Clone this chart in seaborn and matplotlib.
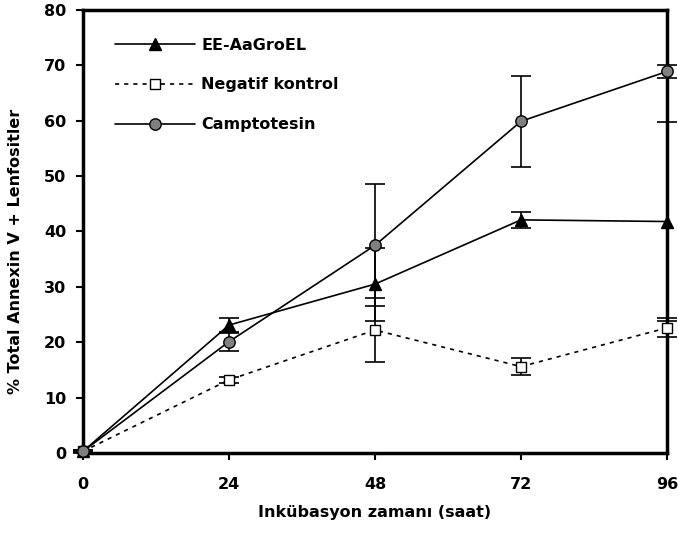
import matplotlib
matplotlib.use("Agg")
import matplotlib.pyplot as plt
import seaborn as sns
import pandas as pd
import numpy as np

hours = [0, 24, 48, 72, 96]
ee_vals = [0.3, 23.1, 30.5, 42.1, 41.8]
ee_err = [0.3, 1.2, 6.6, 1.5, 18.0]
neg_vals = [0.3, 13.2, 22.2, 15.6, 22.6]
neg_err = [0.2, 0.5, 5.7, 1.5, 1.7]
cam_vals = [0.3, 20.1, 37.5, 59.9, 68.9]
cam_err = [0.2, 1.6, 11.0, 8.2, 1.2]
series_names = ["EE-AaGroEL", "Negatif kontrol", "Camptotesin"]
xticks = [0, 24, 48, 72, 96]
yticks = [0, 10, 20, 30, 40, 50, 60, 70, 80]

sns.set_theme(style="white")
plt.rcParams['font.family'] = ['DejaVu Sans']
plt.rcParams['font.weight'] = 'bold'
plt.rcParams['text.color'] = 'black'
plt.rcParams['axes.labelcolor'] = 'black'
plt.rcParams['xtick.color'] = 'black'
plt.rcParams['ytick.color'] = 'black'

fig = plt.figure(figsize=(6.78, 5.35), dpi=100)
ax = fig.add_axes([0.1224, 0.1533, 0.8614, 0.828])

df = pd.DataFrame({
    "x": hours * 3,
    "y": ee_vals + neg_vals + cam_vals,
    "err": ee_err + neg_err + cam_err,
    "s": [series_names[0]] * 5 + [series_names[1]] * 5 + [series_names[2]] * 5,
})

styles = {
    series_names[0]: dict(marker="^", mfc="black", ms=9, ls="-"),
    series_names[1]: dict(marker="s", mfc="white", ms=7.5, ls=(0, (2.5, 3))),
    series_names[2]: dict(marker="o", mfc="#808080", ms=8.2, ls="-"),
}

for name in series_names:
    d = df[df["s"] == name]
    ax.errorbar(d["x"], d["y"], yerr=d["err"], fmt="none", ecolor="black",
                elinewidth=1.2, capsize=7, capthick=1.2, clip_on=False, zorder=2)

for name in series_names:
    d = df[df["s"] == name]
    st = styles[name]
    sns.lineplot(data=d, x="x", y="y", ax=ax, color="black", linewidth=1.2,
                 linestyle=st["ls"], marker=st["marker"], markersize=st["ms"],
                 markerfacecolor=st["mfc"], markeredgecolor="black",
                 markeredgewidth=1.0, label=name, clip_on=False, zorder=3,
                 errorbar=None)

ax.set_xlim(0, 96)
ax.set_ylim(0, 80)
ax.set_xticks(xticks)
ax.set_yticks(yticks)
ax.tick_params(axis="both", direction="out", length=5, width=1.5, labelsize=11.5,
               left=True, bottom=True, color="black", labelcolor="black")
ax.tick_params(axis="x", pad=12)
ax.tick_params(axis="y", pad=7)
for lab in ax.get_xticklabels() + ax.get_yticklabels():
    lab.set_fontweight("bold")
for sp in ax.spines.values():
    sp.set_visible(True)
    sp.set_color("black")
    sp.set_linewidth(2.5)

ax.set_xlabel("Inkübasyon zamanı (saat)", fontsize=11.5, fontweight="bold", labelpad=10)
ax.set_ylabel("% Total Annexin V + Lenfositler", fontsize=11.5, fontweight="bold")
ax.yaxis.set_label_coords(-0.102, 0.455)

leg = ax.legend(loc="upper left", bbox_to_anchor=(0.03, 0.97), frameon=False,
                handlelength=5.0, labelspacing=1.55, handletextpad=0.4,
                prop={"weight": "bold", "size": 11.5})

fig.savefig("out.png", dpi=100)
